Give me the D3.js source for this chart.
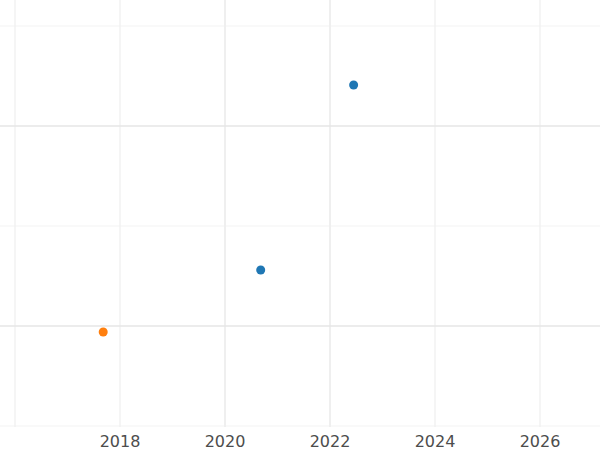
<!DOCTYPE html>
<html><head><meta charset="utf-8">
<script src="https://cdn.jsdelivr.net/npm/d3@7"></script>
<style>body{margin:0;background:#fff}</style></head>
<body><svg id="c" width="600" height="450"></svg>
<script>
const years = [2017.68, 2020.68, 2022.45];
const values = [-0.03, 0.28, 1.205];
const groups = ["b", "a", "a"];
const xTicks = [2018, 2020, 2022, 2024, 2026];
const xGrid = [2016, 2018, 2020, 2022, 2024, 2026];
const yMajor = [0, 1];
const yMinor = [-0.5, 0.5, 1.5];
const colors = {a: "#1f77b4", b: "#ff7f0e"};

const svg = d3.select("#c");
const x = d3.scaleLinear().domain([2015.714, 2027.143]).range([0, 600]);
const y = d3.scaleLinear().domain([0, 1]).range([326, 126]);
const panelTop = 0, panelBottom = 427;

svg.selectAll(".vg").data(xGrid).enter().append("line")
  .attr("x1", d => x(d)).attr("x2", d => x(d)).attr("y1", panelTop).attr("y2", panelBottom)
  .attr("stroke", "#ebebeb").attr("stroke-width", d => (d === 2020 || d === 2022) ? 1.6 : 1);
svg.selectAll(".hm").data(yMinor).enter().append("line")
  .attr("x1", 0).attr("x2", 600).attr("y1", d => y(d)).attr("y2", d => y(d))
  .attr("stroke", "#f0f0f0").attr("stroke-width", 0.8);
svg.selectAll(".hM").data(yMajor).enter().append("line")
  .attr("x1", 0).attr("x2", 600).attr("y1", d => y(d)).attr("y2", d => y(d))
  .attr("stroke", "#e6e6e6").attr("stroke-width", 1.6);

svg.selectAll(".pt").data(years).enter().append("circle")
  .attr("cx", d => x(d)).attr("cy", (d, i) => y(values[i])).attr("r", 4.5)
  .attr("fill", (d, i) => colors[groups[i]]);

svg.selectAll(".xl").data(xTicks).enter().append("text")
  .attr("x", d => x(d)).attr("y", 447).attr("text-anchor", "middle")
  .attr("font-family", "DejaVu Sans").attr("font-size", 16).attr("fill", "#4d4d4d")
  .text(d => d);
</script></body></html>
